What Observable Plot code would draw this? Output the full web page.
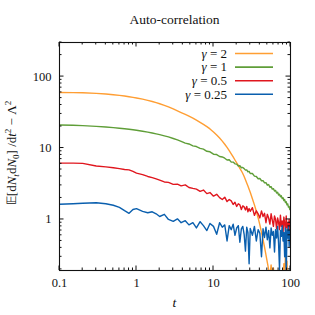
<!DOCTYPE html>
<html><head><meta charset="utf-8">
<script src="https://cdn.jsdelivr.net/npm/d3@7"></script>
<script src="https://cdn.jsdelivr.net/npm/@observablehq/plot@0.6"></script>
<style>
body{margin:0;background:#fff;}
#wrap{position:relative;width:315px;height:315px;font-family:"Liberation Serif",serif;}
#title{position:absolute;left:59px;width:231px;top:12px;text-align:center;font-size:13.5px;color:#111;}
#chart{position:absolute;left:0;top:0;}
</style></head><body>
<div id="wrap"><div id="chart"></div><div id="title">Auto-correlation</div></div>
<script>
const T = [0.1,0.15,0.2,0.3,0.4,0.5,0.6,0.7,0.8,0.9,
 1,1.2,1.4,1.6,1.8,2,2.3,2.6,3,3.4,
 3.8,4.3,4.8,5.4,6,6.7,7.4,8.2,9,10,
 11,12,13,14,15,16,17,18,19,20,
 21,22,23,24,25,26,27,28,29,30,
 32,34,36,38,40,42,44,46,48,50,
 52,54,56,58,60,62,64,66,68,70,
 72,74,76,78,80,82,84,86,88,90,
 92,94,96,98,100];
const gamma2 = [60,59.7,59.3,58.2,57,55.8,54.6,53.5,52.3,51.2,
 50.2,48.3,46.5,44.8,43.2,41.7,39.6,37.6,35.2,33.1,
 31.4,29.6,28,26.2,24.5,22.9,21.4,19.9,18.5,16.8,
 15.2,13.8,12.5,11.3,10.2,9.2,8.3,7.5,6.8,6.2,
 5.7,5.2,4.8,4.4,4.0,3.6,3.25,2.95,2.65,2.4,
 1.95,1.6,1.3,1.05,0.84,0.66,0.52,0.41,0.32,0.25,
 0.2,0.16,0.23,0.14,0.21,0.12,0.1,0.08,0.06,0.05,
 0.07,0.05,0.09,0.06,0.12,0.24,0.17,0.32,0.22,0.26,
 0.12,0.08,0.06,0.05,0.04];
const gamma1 = [21,20.8,20.6,20.1,19.7,19.3,18.9,18.6,18.3,18.0,
 17.7,17.2,16.7,16.2,15.8,15.4,14.8,14.3,13.6,13.0,
 12.4,11.7,11.4,10.7,10.5,9.9,9.65,9.0,8.85,8.2,
 8.1,7.6,7.5,7.2,6.8,6.85,6.35,6.35,6.0,5.95,
 5.6,5.65,5.3,5.35,5.15,4.9,4.95,4.65,4.7,4.4,
 4.4,4.05,4.0,3.72,3.75,3.48,3.5,3.25,3.28,3.02,
 3.08,2.82,2.88,2.66,2.7,2.5,2.55,2.34,2.4,2.2,
 2.26,2.08,2.14,1.96,2.02,1.84,1.9,1.72,1.77,1.6,
 1.65,1.49,1.52,1.38,1.4];
const gamma05 = [6.15,6.15,6.1,5.6,5.45,5.3,5.15,5.0,4.95,4.7,
 4.45,4.25,4.0,3.85,3.7,3.55,3.35,3.3,3.1,3.12,
 2.95,3.05,2.8,2.72,2.66,2.48,2.58,2.3,2.38,2.12,
 2.25,2.02,1.9,2.05,1.78,1.9,1.82,1.62,1.74,1.52,
 1.66,1.6,1.38,1.55,1.5,1.36,1.52,1.28,1.42,1.3,
 1.46,1.14,1.32,1.2,1.05,1.32,1.1,1.22,0.9,1.18,
 1.05,0.86,1.2,0.98,0.8,1.12,1.0,0.74,1.05,0.92,
 0.72,1.15,0.8,0.95,0.66,1.08,0.88,0.7,1.12,0.76,
 0.9,0.64,1.0,0.72,0.82];
const gamma025 = [1.63,1.66,1.69,1.71,1.66,1.58,1.48,1.33,1.22,1.38,
 1.42,1.3,1.24,1.28,1.2,1.1,1.18,1.0,0.94,1.02,
 0.9,0.96,0.84,0.9,0.76,0.93,0.82,0.7,0.88,0.8,
 0.62,0.9,0.78,0.84,0.5,0.82,0.72,0.86,0.6,0.76,
 0.82,0.48,0.74,0.8,0.62,0.36,0.78,0.66,0.24,0.75,
 0.6,0.8,0.5,0.72,0.64,0.3,0.74,0.56,0.78,0.52,
 0.7,0.4,0.76,0.6,0.68,0.35,0.72,0.55,0.8,0.46,
 0.2,0.7,0.58,0.82,0.5,0.66,0.3,0.76,0.16,0.72,
 0.55,0.8,0.42,0.7,0.62];
const seriesGamma = ["2","1","0.5","0.25"];
const seriesValues = [gamma2, gamma1, gamma05, gamma025];
const seriesColors = ["#ff9e33","#5f9e38","#e0161e","#0a5fae"];
const xTickValues = [0.1,1,10,100];
const xTickLabels = ["0.1","1","10","100"];
const yTickValues = [1,10,100];
const yTickLabels = ["1","10","100"];
const xMinor = [0.2,0.3,0.4,0.5,0.6,0.7,0.8,0.9,2,3,4,5,6,7,8,9,20,30,40,50,60,70,80,90];
const yMinor = [0.2,0.3,0.4,0.5,0.6,0.7,0.8,0.9,2,3,4,5,6,7,8,9,20,30,40,50,60,70,80,90,200,300];

const data = seriesValues.flatMap((vals, i) => T.map((t, j) => ({t, v: vals[j], g: seriesGamma[i]})));
const xLab = new Map(xTickValues.map((d,i)=>[d, xTickLabels[i]]));
const yLab = new Map(yTickValues.map((d,i)=>[d, yTickLabels[i]]));

const plot = Plot.plot({
  width: 315, height: 315,
  marginLeft: 59, marginRight: 25, marginTop: 42, marginBottom: 45,
  style: {fontFamily: "'Liberation Serif', serif", fontSize: "12.5px", background: "white", color: "#111"},
  x: {type: "log", domain: [0.1, 100]},
  y: {type: "log", domain: [0.193, 300]},
  color: {domain: seriesGamma, range: seriesColors},
  marks: [
    Plot.line(data, {x: "t", y: "v", z: "g", stroke: "g", strokeWidth: 1.4, clip: true}),
    Plot.frame({stroke: "#111", strokeWidth: 1.1}),
    Plot.axisX(xTickValues, {anchor: "bottom", tickSize: 0, tickPadding: 8, tickFormat: d => xLab.get(d), label: null}),
    Plot.axisY(yTickValues, {anchor: "left", tickSize: 0, tickPadding: 8, tickFormat: d => yLab.get(d), label: null})
  ]
});
document.getElementById("chart").appendChild(plot);

const sx = plot.scale("x"), sy = plot.scale("y");
const svg = d3.select(plot);
const L = 59, R = 290, TOP = 42, BOT = 270;
const g = svg.append("g").attr("stroke", "#111").attr("stroke-width", 1);
function xt(vals, len){ vals.forEach(v => { const x = sx.apply(v);
  g.append("line").attr("x1", x).attr("x2", x).attr("y1", BOT).attr("y2", BOT - len);
  g.append("line").attr("x1", x).attr("x2", x).attr("y1", TOP).attr("y2", TOP + len); }); }
function yt(vals, len){ vals.forEach(v => { const y = sy.apply(v);
  g.append("line").attr("y1", y).attr("y2", y).attr("x1", L).attr("x2", L + len);
  g.append("line").attr("y1", y).attr("y2", y).attr("x1", R).attr("x2", R - len); }); }
xt(xTickValues, 4.5); xt(xMinor, 2.5); yt(yTickValues, 4.5); yt(yMinor, 2.5);

// legend
const lg = svg.append("g").attr("font-family", "'Liberation Serif', serif").attr("font-size", 13);
seriesGamma.forEach((s, i) => {
  const y = 53.5 + i * 13.6;
  lg.append("line").attr("x1", 235).attr("x2", 273).attr("y1", y).attr("y2", y)
    .attr("stroke", seriesColors[i]).attr("stroke-width", 1.6);
  const t = lg.append("text").attr("x", 227).attr("y", y + 4.2).attr("text-anchor", "end").attr("fill", "#111");
  t.append("tspan").attr("font-style", "italic").text("γ");
  t.append("tspan").text(" = " + s);
});

// axis labels
svg.append("text").attr("x", 174.5).attr("y", 307).attr("text-anchor", "middle")
  .attr("font-family", "'Liberation Serif', serif").attr("font-size", 13.5).attr("font-style", "italic").attr("fill", "#111").text("t");
const yl = svg.append("text").attr("transform", "translate(16,153) rotate(-90)").attr("text-anchor", "middle")
  .attr("font-family", "'Liberation Serif', serif").attr("font-size", 13).attr("fill", "#111");
yl.append("tspan").text("𝔼[d");
yl.append("tspan").attr("font-style", "italic").text("N");
yl.append("tspan").attr("font-style", "italic").attr("font-size", 9).attr("dy", 3).text("t");
yl.append("tspan").attr("dy", -3).text("d");
yl.append("tspan").attr("font-style", "italic").text("N");
yl.append("tspan").attr("font-size", 9).attr("dy", 3).text("0");
yl.append("tspan").attr("dy", -3).text("] /d");
yl.append("tspan").attr("font-style", "italic").text("t");
yl.append("tspan").attr("font-size", 9).attr("dy", -5).text("2");
yl.append("tspan").attr("dy", 5).text(" − Λ");
yl.append("tspan").attr("font-size", 9).attr("dy", -5).text("2");
</script>
</body></html>
